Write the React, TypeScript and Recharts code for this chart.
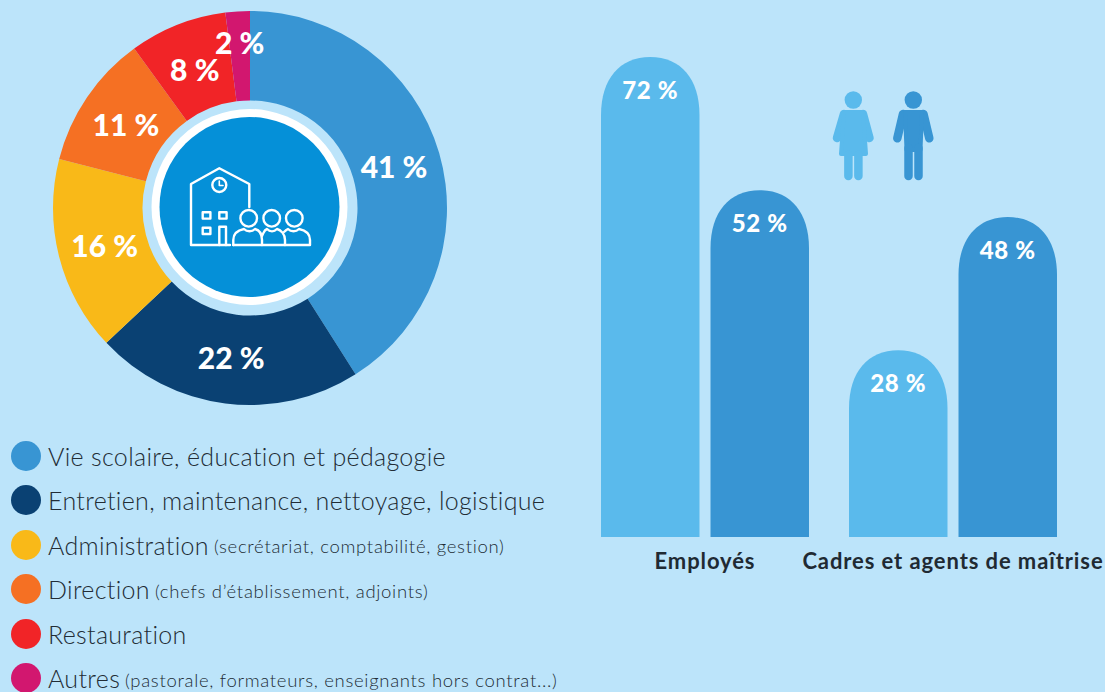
import { BarChart, Bar, XAxis, YAxis, LabelList, PieChart, Pie, Cell } from 'recharts';

// Pie data
const pieNames = [
  'Vie scolaire, éducation et pédagogie',
  'Entretien, maintenance, nettoyage, logistique',
  'Administration',
  'Direction',
  'Restauration',
  'Autres',
];
const pieDetails = [
  '',
  '',
  '(secrétariat, comptabilité, gestion)',
  '(chefs d’établissement, adjoints)',
  '',
  '(pastorale, formateurs, enseignants hors contrat...)',
];
const pieValues = [41, 22, 16, 11, 8, 2];
const pieColors = ['#3895d3', '#0a4173', '#f9b918', '#f57023', '#f12427', '#d2176f'];

// Bar data
const categories = ['Employés', 'Cadres et agents de maîtrise'];
const femmes = [72, 28];
const hommes = [52, 48];

const BG = '#bce4fa';
const LIGHT = '#5abaec';
const DARK = '#3895d3';
const FONT = 'Lato, "Open Sans", sans-serif';

const pieData = pieNames.map((name, i) => ({ name, value: pieValues[i] }));
const barData = categories.map((name, i) => ({ name, femmes: femmes[i], hommes: hommes[i] }));

function renderPieLabel({ cx, cy, midAngle, value }: any) {
  const r = value < 5 ? 166 : 150;
  const a = (midAngle * Math.PI) / 180;
  return (
    <text
      x={cx + r * Math.cos(a)}
      y={cy - r * Math.sin(a)}
      textAnchor="middle"
      dominantBaseline="central"
      fill="#fff"
      fontFamily={FONT}
      fontWeight={900}
      fontSize={30}
    >
      {value} %
    </text>
  );
}

function ArchBar({ x, y, width, height, fill }: any) {
  const rx = width / 2;
  const ry = 58;
  const k = 0.62;
  const d = `M${x},${y + height} L${x},${y + ry}
    C${x},${y + ry * (1 - k)} ${x + rx * (1 - k)},${y} ${x + rx},${y}
    C${x + rx * (1 + k)},${y} ${x + width},${y + ry * (1 - k)} ${x + width},${y + ry}
    L${x + width},${y + height} Z`;
  return <path d={d} fill={fill} />;
}

function renderBarLabel({ x, y, width, value }: any) {
  return (
    <text
      x={x + width / 2}
      y={y + 32}
      textAnchor="middle"
      dominantBaseline="central"
      fill="#fff"
      fontFamily={FONT}
      fontWeight={900}
      fontSize={24}
      letterSpacing={0.6}
    >
      {value} %
    </text>
  );
}

function CategoryTick({ x, payload }: any) {
  return (
    <text x={x} y={569} textAnchor="middle" fill="#1f2a33" fontFamily={FONT} fontWeight={700} fontSize={22} letterSpacing={0.9}>
      {payload.value}
    </text>
  );
}

// Center badge and its school pictogram
function CenterIcon() {
  const line = { fill: 'none', stroke: '#fff', strokeWidth: 2.4, strokeLinejoin: 'round' as const, strokeLinecap: 'round' as const };
  return (
    <svg width={1105} height={692} style={{ position: 'absolute', left: 0, top: 0, pointerEvents: 'none' }}>
      <circle cx={249.5} cy={207} r={98} fill="#fff" />
      <circle cx={249.5} cy={207} r={90} fill="#0590d8" />
      <g {...line}>
        <path d="M230,245 L191,245 L191,184 L219.3,168.3 L249.3,184 L249.3,207" />
        <circle cx={219.3} cy={185} r={7} />
        <path d="M219.3,181 L219.3,185.5 L223,185.5" strokeWidth={1.6} />
        <rect x={202.7} y={212.3} width={7.7} height={6.3} />
        <rect x={219.3} y={212.3} width={7.3} height={6.3} />
        <rect x={202.7} y={227.7} width={7.7} height={6.3} />
        <path d="M219.3,245 L219.3,226.7 L226,226.7 L226,245" />
        <circle cx={248.7} cy={218.3} r={8.3} />
        <circle cx={271.7} cy={218.3} r={8.3} />
        <circle cx={294.3} cy={218.3} r={8.3} />
        <path d="M233.3,245 L310,245 L310,240 C310,233 304,230 299,229 C296,232 291,232 288,229 C286,230 285,231 284,232" />
        <path d="M233.3,245 L233.3,240 C233.3,233 239,230 244,229 C247,232 252,232 255,229 C259,230 262,234 262,240 L262,245" />
        <path d="M262,236 C264,232 264,230 267,229 C270,232 274,232 277,229 C281,230 285,234 285,240 L285,245" />
      </g>
    </svg>
  );
}

function Figures() {
  return (
    <svg width={1105} height={692} style={{ position: 'absolute', left: 0, top: 0, pointerEvents: 'none' }}>
      <g fill={LIGHT} stroke={LIGHT} strokeLinecap="round" strokeLinejoin="round">
        <circle cx={853.3} cy={100} r={8.7} stroke="none" />
        <path d="M844,114 L837,138 M863,114 L869.5,138" strokeWidth={8.5} fill="none" />
        <path d="M844,112 L863,112 L866,154 L841,154 Z" strokeWidth={4} />
        <path d="M848.4,155 L848.4,176 M858.4,155 L858.4,176" strokeWidth={8.5} fill="none" />
      </g>
      <g fill={DARK} stroke={DARK} strokeLinecap="round" strokeLinejoin="round">
        <circle cx={913.3} cy={100} r={8.7} stroke="none" />
        <path d="M903,114 L897.3,138.3 M923.5,114 L929.3,138.3" strokeWidth={8.5} fill="none" />
        <path d="M905,112 L922,112 L920.5,150 L906.5,150 Z" strokeWidth={4} />
        <path d="M908.5,148 L908.5,176 M918.5,148 L918.5,176" strokeWidth={8.5} fill="none" />
      </g>
    </svg>
  );
}

function PieLegend() {
  return (
    <div style={{ position: 'absolute', left: 0, top: 0, fontFamily: FONT, color: '#222c35' }}>
      {pieNames.map((name, i) => (
        <div
          key={name}
          style={{ position: 'absolute', left: 10.5, top: 433.5 + i * 44.4, height: 45, width: 580, display: 'flex', alignItems: 'center', whiteSpace: 'nowrap' }}
        >
          <span style={{ width: 30, height: 30, borderRadius: '50%', background: pieColors[i], marginRight: 7.5, flex: 'none' }} />
          <span style={{ fontSize: 25, fontWeight: 300, letterSpacing: 0.32 }}>{name}</span>
          {pieDetails[i] && (
            <span style={{ fontSize: 18.5, fontWeight: 300, marginLeft: 5, marginTop: 3, letterSpacing: 0.7 }}>{pieDetails[i]}</span>
          )}
        </div>
      ))}
    </div>
  );
}

export default function App() {
  return (
    <div style={{ position: 'absolute', left: 0, top: 0, width: 1105, height: 692, background: BG, overflow: 'hidden' }}>
      <div style={{ position: 'absolute', left: 0, top: 0 }}>
        <BarChart
          width={1105}
          height={692}
          data={barData}
          margin={{ left: 581, right: 28, top: 57, bottom: 125 }}
          barSize={98.5}
          barGap={11}
        >
          <XAxis dataKey="name" axisLine={false} tickLine={false} interval={0} tick={<CategoryTick />} />
          <YAxis hide domain={[0, 72]} />
          <Bar dataKey="femmes" fill={LIGHT} shape={<ArchBar />} isAnimationActive={false}>
            <LabelList dataKey="femmes" content={renderBarLabel} />
          </Bar>
          <Bar dataKey="hommes" fill={DARK} shape={<ArchBar />} isAnimationActive={false}>
            <LabelList dataKey="hommes" content={renderBarLabel} />
          </Bar>
        </BarChart>
      </div>
      <div style={{ position: 'absolute', left: 0, top: 0 }}>
        <PieChart width={520} height={420} margin={{ left: 0, right: 0, top: 0, bottom: 0 }}>
          <Pie
            data={pieData}
            dataKey="value"
            cx={250}
            cy={208}
            innerRadius={107.5}
            outerRadius={197}
            startAngle={90}
            endAngle={-270}
            stroke="none"
            label={renderPieLabel}
            labelLine={false}
            isAnimationActive={false}
          >
            {pieData.map((entry, index) => (
              <Cell key={entry.name} fill={pieColors[index]} />
            ))}
          </Pie>
        </PieChart>
      </div>
      <CenterIcon />
      <Figures />
      <PieLegend />
    </div>
  );
}
